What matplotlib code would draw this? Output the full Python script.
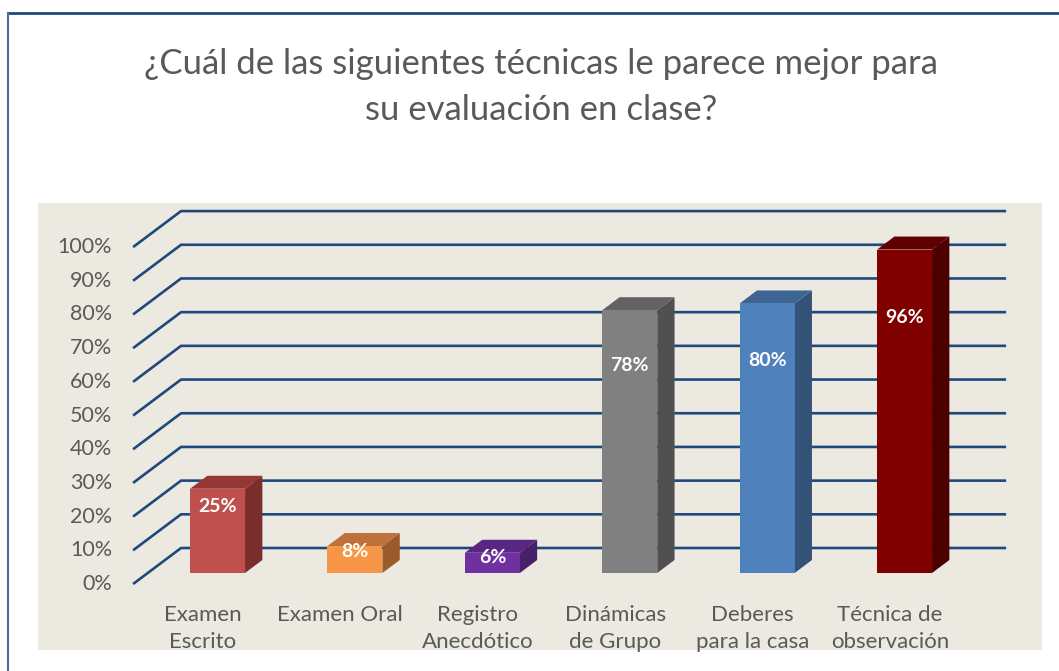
#!/usr/bin/env python3

import matplotlib
matplotlib.use("Agg")
import matplotlib.pyplot as plt
from matplotlib.patches import Polygon
from matplotlib.lines import Line2D


CATEGORIES = ["Examen\nEscrito", "Examen Oral", "Registro\nAnecdótico",
              "Dinámicas\nde Grupo", "Deberes\npara la casa", "Técnica de\nobservación"]
VALUES = [25, 8, 6, 78, 80, 96]
TICKS = [0, 10, 20, 30, 40, 50, 60, 70, 80, 90, 100]
TITLE = "¿Cuál de las siguientes técnicas le parece mejor para\nsu evaluación en clase?"

# front, top, side colours for each bar
FRONT = ["#C0504D", "#F79646", "#7030A0", "#808080", "#4F81BD", "#800000"]
TOP = ["#953735", "#C0703A", "#5A2683", "#626262", "#3D6493", "#600000"]
SIDE = ["#7A2E2C", "#9B5A29", "#46206A", "#505050", "#325277", "#4C0000"]

GRID = "#1F497D"
WALL = "#ECE9E0"
TEXT = "#595959"

# depth of the fake 3d box (front minus back) in data units
DX, DY = -0.349, -10.68
S_BACK, S_FRONT = 0.333, 0.694
HALF = 0.2
FONT = ["Lato", "DejaVu Sans"]


def main():
    W, H = 1059, 671
    fig = plt.figure(figsize=(W / 100, H / 100), dpi=100)

    # plot area in pixels: 38..1042 x 203..650
    ax = fig.add_axes([38 / W, 1 - 650 / H, (1042 - 38) / W, (650 - 203) / H])
    ax.set_facecolor(WALL)
    ax.set_xlim(-1.549, 5.758)
    ax.set_ylim(-30.27, 102.4)
    ax.set_xticks([])
    ax.set_yticks([])
    for sp in ax.spines.values():
        sp.set_visible(False)

    x_left, x_right = -0.508, 5.497
    for t in TICKS:
        ax.plot([x_left + DX, x_left, x_right], [t + DY, t, t],
                color=GRID, lw=1.9, solid_capstyle="butt", zorder=1)
        ax.text(-1.01, t + DY, f"{t}%", ha="right", va="center",
                fontsize=15.5, color=TEXT, family=FONT)

    for i, v in enumerate(VALUES):
        fx0, fx1 = i - HALF + S_FRONT * DX, i + HALF + S_FRONT * DX
        bx0, bx1 = i - HALF + S_BACK * DX, i + HALF + S_BACK * DX
        fy0, by0 = S_FRONT * DY, S_BACK * DY
        front = Polygon([(fx0, fy0), (fx1, fy0), (fx1, v + fy0), (fx0, v + fy0)],
                        closed=True, fc=FRONT[i], ec="none", zorder=3)
        top = Polygon([(fx0, v + fy0), (fx1, v + fy0), (bx1, v + by0), (bx0, v + by0)],
                      closed=True, fc=TOP[i], ec="none", zorder=3)
        side = Polygon([(fx1, fy0), (bx1, by0), (bx1, v + by0), (fx1, v + fy0)],
                       closed=True, fc=SIDE[i], ec="none", zorder=3)
        for p in (side, top, front):
            ax.add_patch(p)
        ax.text(i + S_FRONT * DX, 0.79 * v + fy0, f"{v}%", ha="center", va="center",
                fontsize=14, fontweight="bold", color="white", family=FONT, zorder=4)

    for i, label in enumerate(CATEGORIES):
        ax.text(i + DX, DY - 6.2, label, ha="center", va="top", fontsize=16,
                color=TEXT, family=FONT, linespacing=1.42)

    fig.text(541 / W, 1 - 87 / H, TITLE, ha="center", va="center", fontsize=25,
             color=TEXT, family=FONT, linespacing=1.5)

    # chart border (right and bottom edges fall outside the picture)
    fig.add_artist(Line2D([8 / W, 1.0], [1 - 13 / H, 1 - 13 / H],
                          transform=fig.transFigure, color=GRID, lw=2))
    fig.add_artist(Line2D([8 / W, 8 / W], [0.0, 1 - 13 / H],
                          transform=fig.transFigure, color="#4A6FA0", lw=1.5))

    fig.savefig("out.png", dpi=100, facecolor="white")
    plt.close(fig)


if __name__ == "__main__":
    main()
